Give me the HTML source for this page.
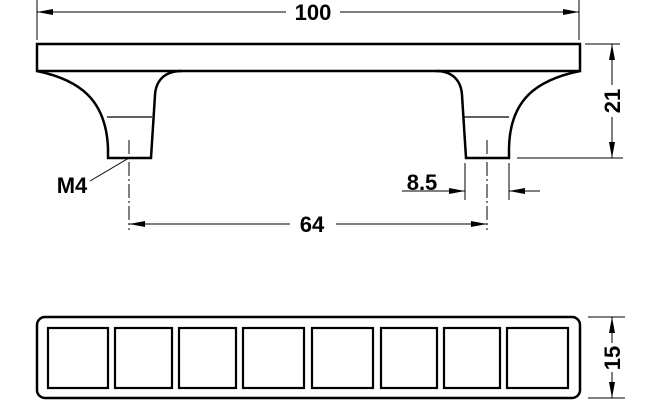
<!DOCTYPE html>
<html><head><meta charset="utf-8"><style>
html,body{margin:0;padding:0;background:#fff;}
svg{display:block;}
text{font-family:"Liberation Sans",sans-serif;font-weight:bold;font-size:22px;fill:#000;}
</style></head><body>
<svg width="659" height="400" viewBox="0 0 659 400" xmlns="http://www.w3.org/2000/svg">
<defs>
<marker id="a" viewBox="0 0 16 6" refX="16" refY="3" markerWidth="16" markerHeight="6" orient="auto" markerUnits="userSpaceOnUse"><path d="M0,0 L16,3 L0,6 z" fill="#000"/></marker>
</defs>
<g stroke="#000" fill="none">
<line x1="37" y1="0" x2="37" y2="40" stroke-width="1"/>
<line x1="579" y1="0" x2="579" y2="40" stroke-width="1"/>
<line x1="286" y1="12" x2="37" y2="12" stroke-width="1" marker-end="url(#a)"/>
<line x1="340" y1="12" x2="579" y2="12" stroke-width="1" marker-end="url(#a)"/>
<path d="M37,44 H580 V71 H37 Z" stroke-width="2.5"/>
<path d="M37,71 C80,80 106,100 108,148 V158 H151 L155,95 C156,80 165,71 182,71" stroke-width="2.5"/>
<path d="M580,71 C536,80 510,100 509,148 V158 H466 L462,95 C461,80 452,71 436,71" stroke-width="2.5"/>
<line x1="107" y1="117" x2="152" y2="117" stroke-width="1.2"/>
<line x1="464" y1="117" x2="509" y2="117" stroke-width="1.2"/>
<line x1="129" y1="140" x2="129" y2="230" stroke-width="1" stroke-dasharray="14,3,2,3"/>
<line x1="487" y1="140" x2="487" y2="230" stroke-width="1" stroke-dasharray="14,3,2,3"/>
<line x1="90" y1="181" x2="129" y2="158" stroke-width="1"/>
<line x1="290" y1="224" x2="129" y2="224" stroke-width="1" marker-end="url(#a)"/>
<line x1="336" y1="224" x2="487" y2="224" stroke-width="1" marker-end="url(#a)"/>
<line x1="465" y1="163" x2="465" y2="200" stroke-width="1"/>
<line x1="509" y1="163" x2="509" y2="200" stroke-width="1"/>
<line x1="402" y1="191" x2="465" y2="191" stroke-width="1" marker-end="url(#a)"/>
<line x1="540" y1="191" x2="509" y2="191" stroke-width="1" marker-end="url(#a)"/>
<line x1="585" y1="44" x2="620" y2="44" stroke-width="1"/>
<line x1="517" y1="158" x2="623" y2="158" stroke-width="1"/>
<line x1="612" y1="85" x2="612" y2="44" stroke-width="1" marker-end="url(#a)"/>
<line x1="612" y1="117" x2="612" y2="158" stroke-width="1" marker-end="url(#a)"/>
<rect x="37" y="317" width="543" height="81" rx="8" stroke-width="2.5"/>
<g stroke-width="2.2">
<rect x="48" y="328" width="60" height="60"/>
<rect x="115" y="328" width="57" height="60"/>
<rect x="179" y="328" width="57" height="60"/>
<rect x="243" y="328" width="61" height="60"/>
<rect x="312" y="328" width="61" height="60"/>
<rect x="381" y="328" width="56" height="60"/>
<rect x="444" y="328" width="56" height="60"/>
<rect x="507" y="328" width="61" height="60"/>
</g>
<line x1="588" y1="317" x2="625" y2="317" stroke-width="1"/>
<line x1="588" y1="398" x2="625" y2="398" stroke-width="1"/>
<line x1="612" y1="343" x2="612" y2="317" stroke-width="1" marker-end="url(#a)"/>
<line x1="612" y1="372" x2="612" y2="398" stroke-width="1" marker-end="url(#a)"/>
</g>
<text x="313" y="20" text-anchor="middle">100</text>
<text x="312" y="232" text-anchor="middle">64</text>
<text x="72" y="193" text-anchor="middle">M4</text>
<text x="422" y="190" text-anchor="middle">8.5</text>
<text transform="translate(620,101) rotate(-90)" text-anchor="middle">21</text>
<text transform="translate(620,358) rotate(-90)" text-anchor="middle">15</text>
</svg>
</body></html>
